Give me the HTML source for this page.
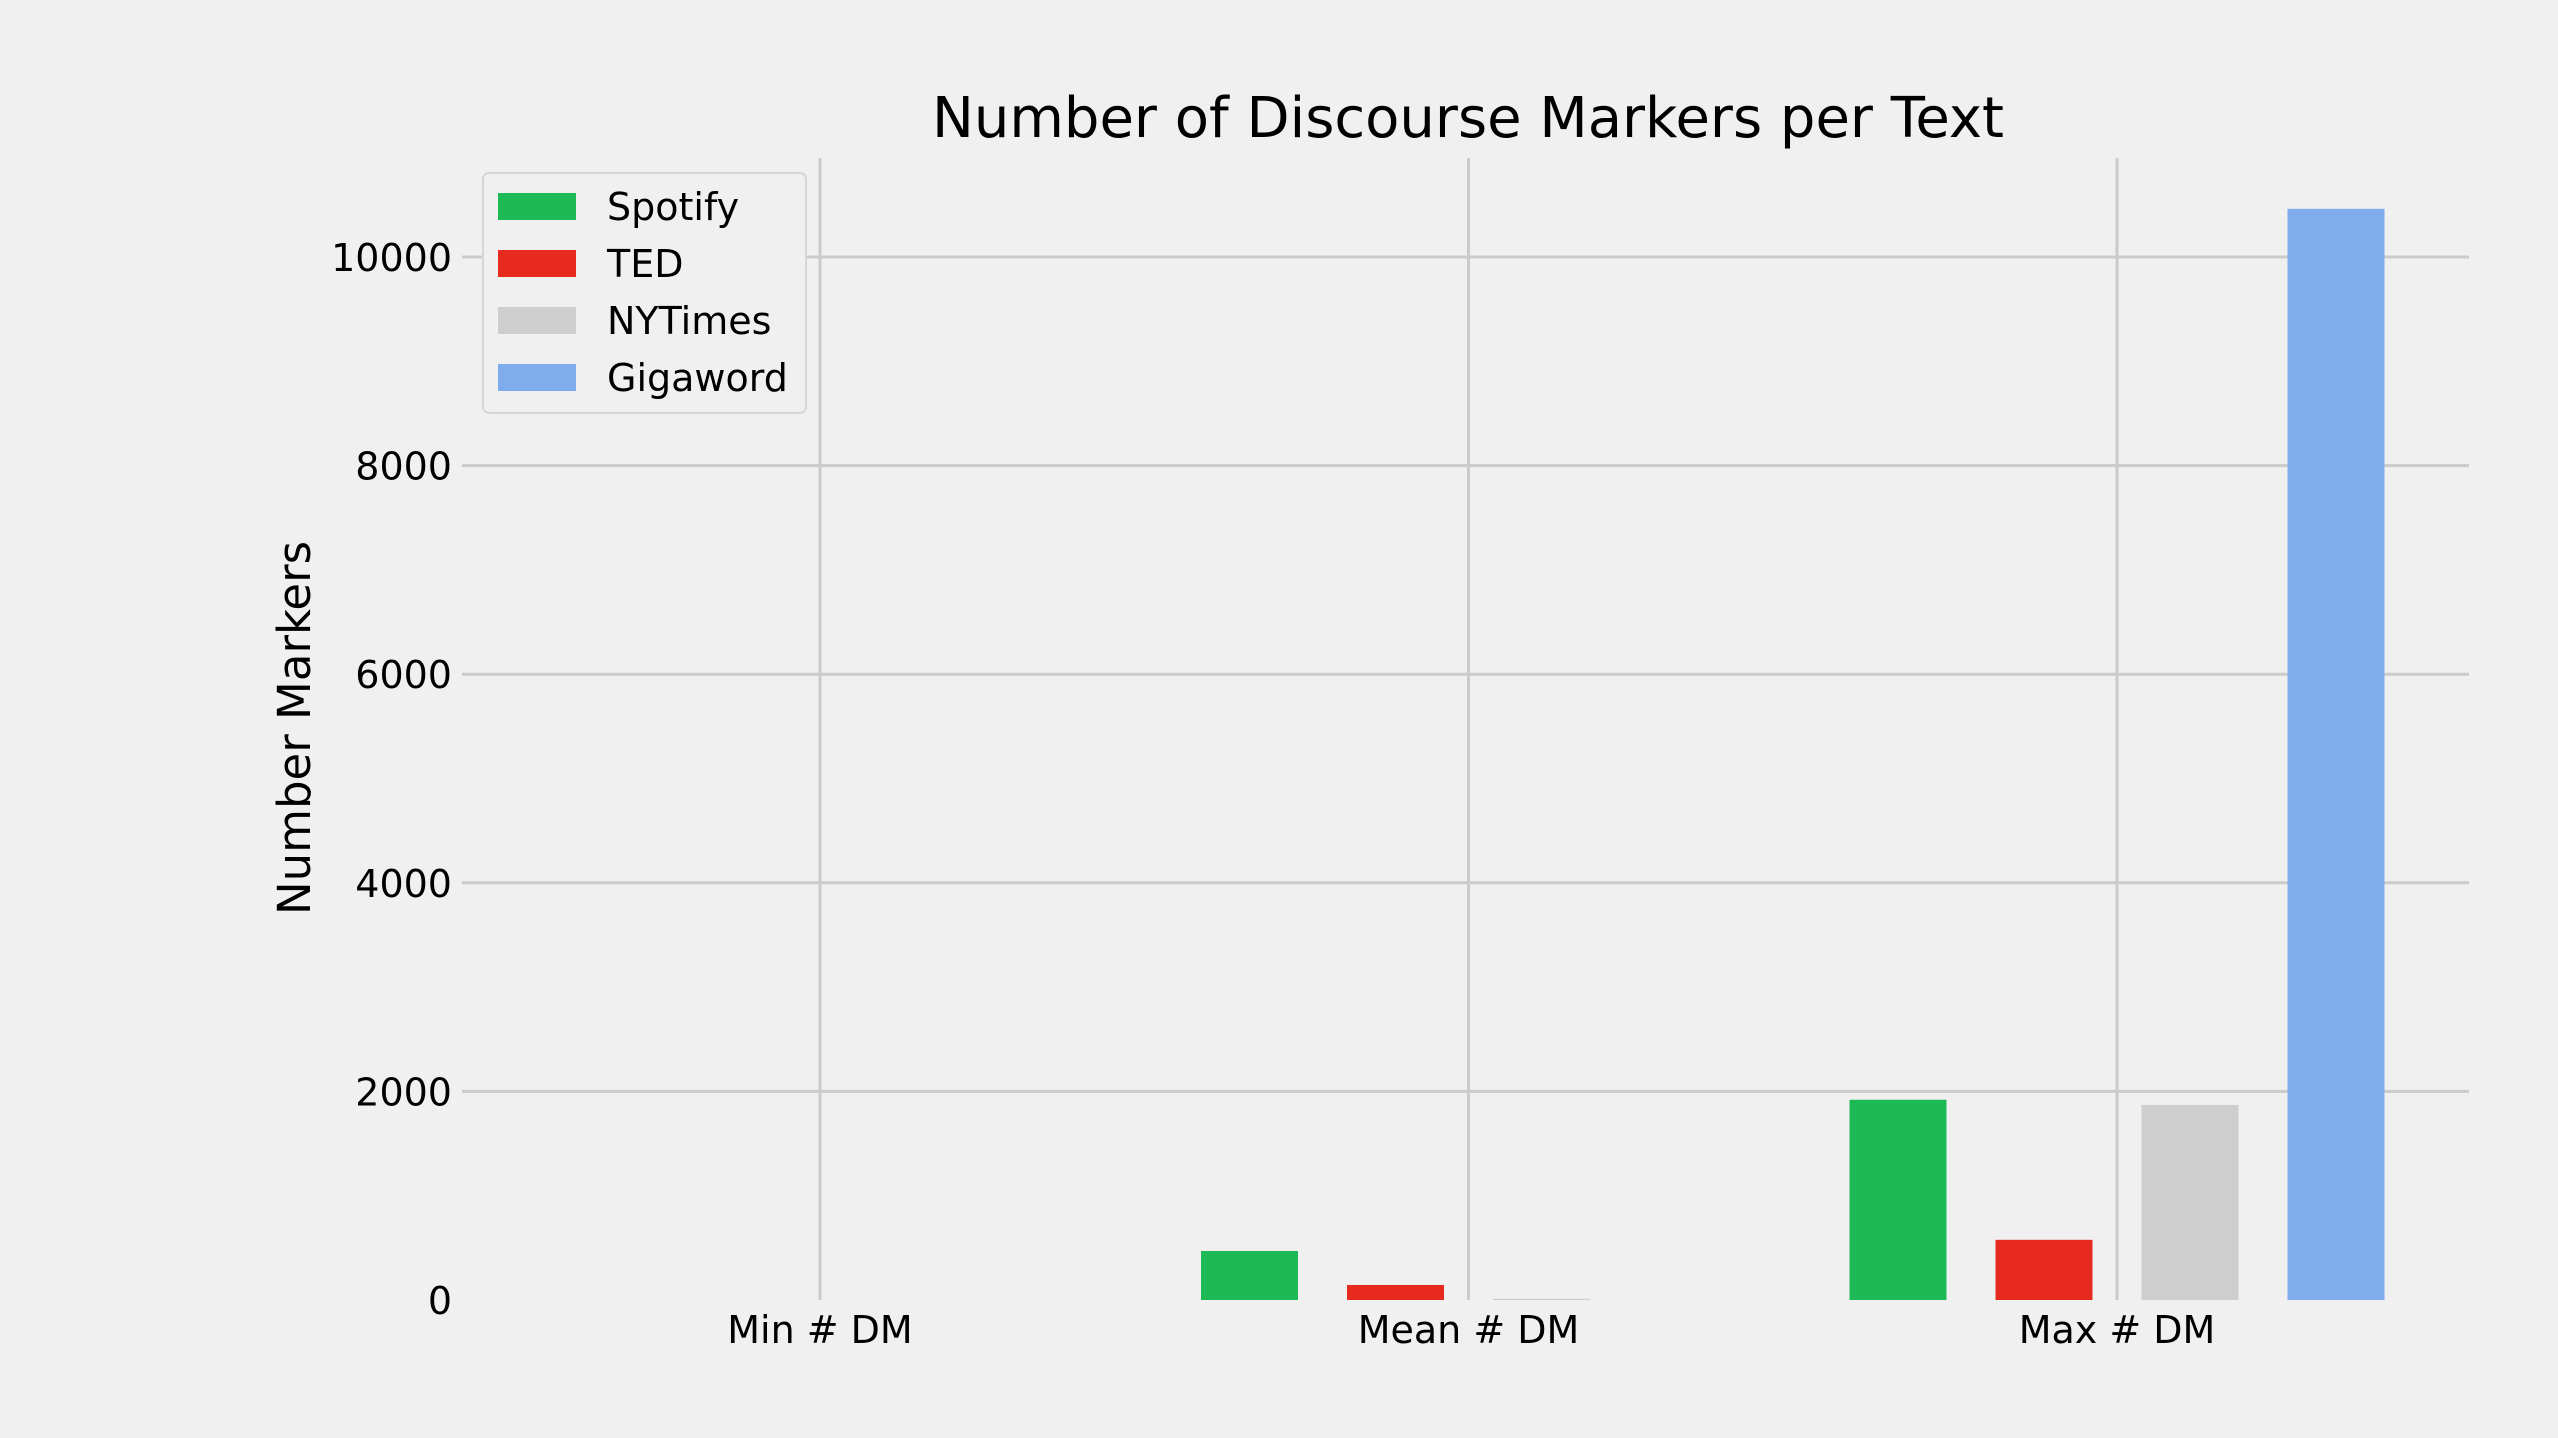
<!DOCTYPE html>
<html><head><meta charset="utf-8"><style>
html,body{margin:0;padding:0;background:#f0f0f0;}
svg{display:block;font-family:"DejaVu Sans","Liberation Sans",sans-serif;}
</style></head><body>
<svg id="chart" width="2558" height="1438" viewBox="0 0 2558 1438">
<rect x="0" y="0" width="2558" height="1438" fill="#f0f0f0"/>
<g id="grid"></g><g id="bars"></g><g id="labels"></g>
<text x="1468" y="137" text-anchor="middle" font-size="56" fill="#000">Number of Discourse Markers per Text</text>
<text transform="translate(310,728) rotate(-90)" text-anchor="middle" font-size="45" fill="#000">Number Markers</text>
<g id="legend"></g>
</svg>
<script>
const categories = ["Min # DM", "Mean # DM", "Max # DM"];
const seriesNames = ["Spotify", "TED", "NYTimes", "Gigaword"];
const spotifyValues = [0, 470, 1920];
const tedValues = [0, 144, 577];
const nytimesValues = [0, 12, 1870];
const gigawordValues = [0, 0, 10462];
const yTicks = [0, 2000, 4000, 6000, 8000, 10000];
const colors = ["#1db954", "#e62b1e", "#cecece", "#7eacec"];
const allSeries = [spotifyValues, tedValues, nytimesValues, gigawordValues];

const NS = "http://www.w3.org/2000/svg";
const y0 = 1300, pxPerUnit = (1300 - 257) / 10000;
const yScale = v => y0 - v * pxPerUnit;
const xCenter = i => 820 + i * 648.5;
const barOffset = j => (j - 1.5) * 146;
const barW = 97;
function mk(tag, attrs, parent) {
  const e = document.createElementNS(NS, tag);
  for (const k in attrs) e.setAttribute(k, attrs[k]);
  parent.appendChild(e);
  return e;
}
const grid = document.getElementById("grid");
const labels = document.getElementById("labels");
yTicks.forEach(t => {
  if (t !== 0) {
    const l = mk("line", {x1: 462, x2: 2469, y1: yScale(t), y2: yScale(t), stroke: "#cbcbcb", "stroke-width": 3}, grid);
    
    
  }
  const tx = mk("text", {x: 452, y: yScale(t) + 14, "text-anchor": "end", "font-size": 38, fill: "#000"}, labels);
  tx.textContent = t;
  
  
});
categories.forEach((c, i) => {
  const l = mk("line", {x1: xCenter(i), x2: xCenter(i), y1: 158, y2: 1300, stroke: "#cbcbcb", "stroke-width": 3}, grid);
  
  
  const tx = mk("text", {x: xCenter(i), y: 1343, "text-anchor": "middle", "font-size": 38, fill: "#000"}, labels);
  tx.textContent = c;
  
  
});
const bars = document.getElementById("bars");
allSeries.forEach((vals, j) => {
  vals.forEach((v, i) => {
    if (v <= 0) return;
    const r = mk("rect", {x: xCenter(i) + barOffset(j) - barW / 2, y: yScale(v), width: barW, height: y0 - yScale(v), fill: colors[j]}, bars);
    
    
  });
});
const legend = document.getElementById("legend");
const box = mk("rect", {x: 483, y: 173, width: 323, height: 240, rx: 6, fill: "#f0f0f0", stroke: "#d6d6d6", "stroke-width": 2}, legend);


seriesNames.forEach((n, j) => {
  const cy = 206 + j * 57;
  const p = mk("rect", {x: 498, y: cy - 13, width: 78, height: 27, fill: colors[j]}, legend);
  
  
  const t = mk("text", {x: 607, y: cy + 14, "font-size": 38, fill: "#000"}, legend);
  t.textContent = n;
  
  
});
</script>
</body></html>
